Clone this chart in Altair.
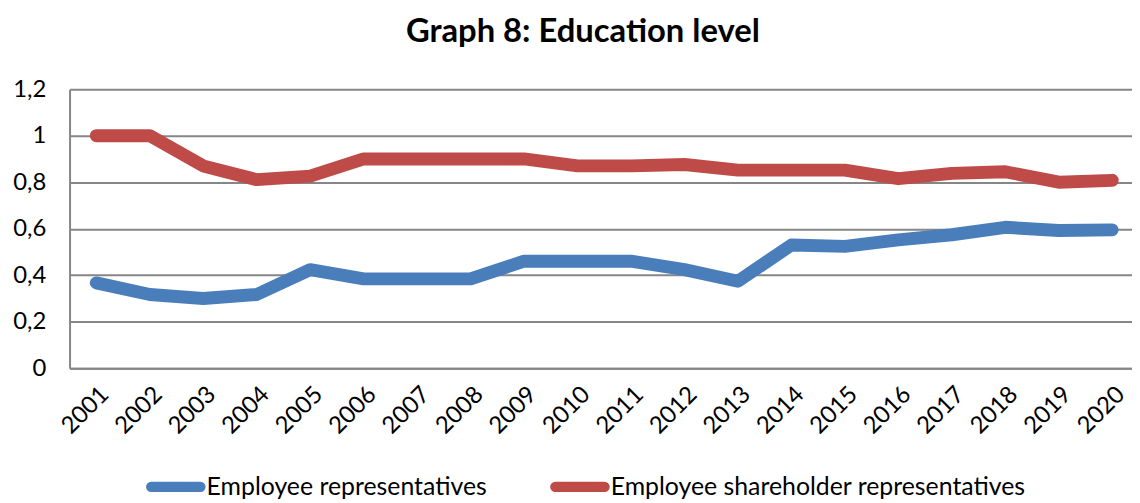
import altair as alt
import pandas as pd

years = list(range(2001, 2021))
employee_reps = [0.367, 0.317, 0.300, 0.317, 0.424, 0.384, 0.384, 0.384, 0.460, 0.460,
                 0.460, 0.424, 0.374, 0.530, 0.524, 0.552, 0.574, 0.606, 0.592, 0.595]
shareholder_reps = [1.0, 1.0, 0.870, 0.811, 0.826, 0.900, 0.900, 0.900, 0.900, 0.870,
                    0.870, 0.876, 0.852, 0.852, 0.852, 0.815, 0.838, 0.845, 0.800, 0.808]
series_names = ["Employee representatives", "Employee shareholder representatives"]
colors = ["#4a7ebb", "#be4b48"]

rows = []
for i, y in enumerate(years):
    rows.append({"year": y, "series": series_names[0], "value": employee_reps[i]})
    rows.append({"year": y, "series": series_names[1], "value": shareholder_reps[i]})
df = pd.DataFrame(rows)

FONT = "Lato"
FS = 24
capsule = ("M -0.92 -0.08 L 0.92 -0.08 A 0.08 0.08 0 0 1 0.92 0.08 "
           "L -0.92 0.08 A 0.08 0.08 0 0 1 -0.92 -0.08 Z")

chart = alt.Chart(df).mark_line(strokeWidth=13, strokeCap="round", strokeJoin="round").encode(
    x=alt.X("year:Q", scale=alt.Scale(domain=[2000.5, 2020.37], nice=False, zero=False),
            axis=alt.Axis(values=years, format="d", labelAngle=-45, labelAlign="right",
                          labelBaseline="top", labelPadding=14, labelFontSize=FS, labelFont=FONT,
                          labelColor="#000000", ticks=False, grid=False, domainColor="#868686",
                          domainWidth=2, title=None, labelOverlap=False)),
    y=alt.Y("value:Q", scale=alt.Scale(domain=[0, 1.2], nice=False),
            axis=alt.Axis(values=[0, 0.2, 0.4, 0.6, 0.8, 1.0, 1.2],
                          labelExpr="replace(format(datum.value, '.1~f'), '.', ',')",
                          labelFontSize=FS, labelFont=FONT, labelColor="#000000", labelPadding=24,
                          ticks=False, gridColor="#868686", gridWidth=2, domainColor="#868686",
                          domainWidth=2, title=None)),
    color=alt.Color("series:N", scale=alt.Scale(domain=series_names, range=colors),
                    legend=alt.Legend(orient="none", legendX=77, legendY=370, direction="horizontal",
                                      title=None, symbolType=capsule, symbolSize=2916,
                                      symbolStrokeWidth=6, labelFontSize=25, labelFont=FONT,
                                      labelColor="#000000", columnPadding=54, labelOffset=1,
                                      labelLimit=600)),
).properties(
    width=1070, height=281,
    title=alt.TitleParams("Graph 8: Education level", font=FONT, fontSize=33, fontWeight="bold",
                          color="#000000", anchor="middle", dx=-18, offset=29),
    autosize=alt.AutoSizeParams(type="none"),
    padding={"left": 62, "top": 80, "right": 0, "bottom": 134},
).configure_view(stroke=None)

chart.save("out.html", embed_options={"renderer": "svg", "actions": False})
